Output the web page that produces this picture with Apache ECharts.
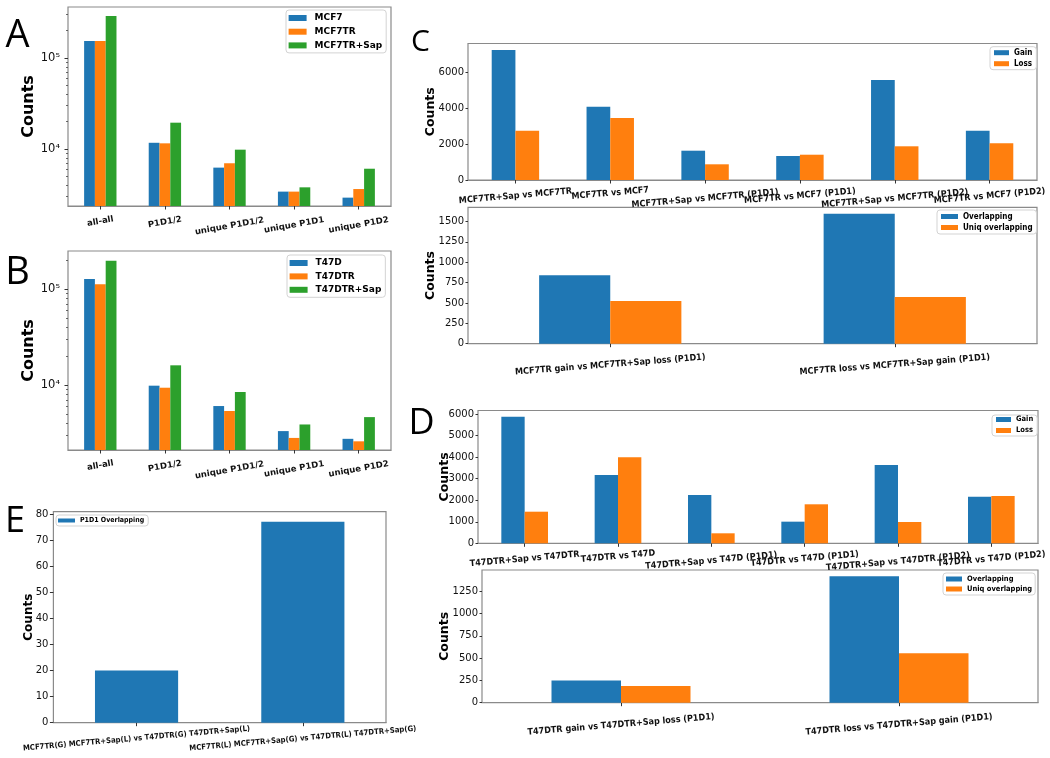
<!DOCTYPE html>
<html><head><meta charset="utf-8">
<script src="https://cdn.jsdelivr.net/npm/echarts@6/dist/echarts.min.js"></script>
<style>html,body{margin:0;padding:0;background:#fff}#c{width:1050px;height:758px}</style>
</head><body><div id="c"></div>
<script>
// ---------------- DATA ----------------
const catsAB = ['all-all', 'P1D1/2', 'unique P1D1/2', 'unique P1D1', 'unique P1D2'];
const mcf7      = [153800, 11700, 6240, 3400, 2920];
const mcf7tr    = [154000, 11540, 6970, 3400, 3630];
const mcf7trSap = [289000, 19460, 9830, 3790, 6070];
const t47d      = [128200, 9840, 6030, 3300, 2740];
const t47dtr    = [112800, 9370, 5350, 2800, 2580];
const t47dtrSap = [199000, 16060, 8450, 3870, 4620];
const logTicks  = [1e4, 1e5];

const catsCtop = ['MCF7TR+Sap vs MCF7TR', 'MCF7TR vs MCF7', 'MCF7TR+Sap vs MCF7TR (P1D1)', 'MCF7TR vs MCF7 (P1D1)', 'MCF7TR+Sap vs MCF7TR (P1D2)', 'MCF7TR vs MCF7 (P1D2)'];
const gainC = [7263, 4095, 1637, 1341, 5587, 2754];
const lossC = [2754, 3464, 877, 1413, 1883, 2050];
const ticksCtop = [0, 2000, 4000, 6000];

const catsCbot = ['MCF7TR gain vs MCF7TR+Sap loss (P1D1)', 'MCF7TR loss vs MCF7TR+Sap gain (P1D1)'];
const overlapC = [841, 1595];
const uniqC    = [525, 574];
const ticksCbot = [0, 250, 500, 750, 1000, 1250, 1500];

const catsDtop = ['T47DTR+Sap vs T47DTR', 'T47DTR vs T47D', 'T47DTR+Sap vs T47D (P1D1)', 'T47DTR vs T47D (P1D1)', 'T47DTR+Sap vs T47DTR (P1D2)', 'T47DTR vs T47D (P1D2)'];
const gainD = [5870, 3170, 2243, 1004, 3635, 2165];
const lossD = [1467, 3990, 464, 1810, 988, 2195];
const ticksDtop = [0, 1000, 2000, 3000, 4000, 5000, 6000];

const catsDbot = ['T47DTR gain vs T47DTR+Sap loss (P1D1)', 'T47DTR loss vs T47DTR+Sap gain (P1D1)'];
const overlapD = [248, 1419];
const uniqD    = [188, 556];
const ticksDbot = [0, 250, 500, 750, 1000, 1250];

const catsE = ['MCF7TR(G) MCF7TR+Sap(L) vs T47DTR(G) T47DTR+Sap(L)', 'MCF7TR(L) MCF7TR+Sap(G) vs T47DTR(L) T47DTR+Sap(G)'];
const overlapE = [20, 77];
const ticksE = [0, 10, 20, 30, 40, 50, 60, 70, 80];

// ---------------- STYLE ----------------
const BLUE = '#1f77b4', ORANGE = '#ff7f0e', GREEN = '#2ca02c';
const FONT = "'DejaVu Sans', sans-serif";
const FONTC = "'DejaVu Sans Condensed', 'DejaVu Sans', sans-serif";
const FRAME = '#8a8a8a';
const INK = '#111';
const TICK = {color: '#333', width: 1};

function catAxis(gi, cats) {
  return {
    type: 'category', gridIndex: gi, data: cats,
    axisLine: {show: true, lineStyle: {color: FRAME, width: 1.2}},
    axisTick: {show: true, alignWithLabel: true, length: 3.5, lineStyle: TICK},
    axisLabel: {show: false, interval: 0},
    splitLine: {show: false}
  };
}

function linAxis(gi, data, ticks, size, margin, nameGap, nameSize, tickLen) {
  return {
    type: 'value', gridIndex: gi, min: 0, max: Math.max(...data) * 1.05, interval: ticks[1] - ticks[0],
    axisLine: {show: false}, splitLine: {show: false},
    axisTick: {show: true, length: tickLen, lineStyle: TICK},
    axisLabel: {showMaxLabel: false, margin: margin, fontSize: size, fontFamily: FONT, color: INK,
      formatter: v => ticks.indexOf(v) >= 0 ? String(v) : ''},
    name: 'Counts', nameLocation: 'middle', nameGap: nameGap, nameRotate: 90, nameMoveOverlap: false,
    nameTextStyle: {fontSize: nameSize, fontWeight: 'bold', fontFamily: FONT, color: '#000'}
  };
}

const SUP = {'0': '⁰', '1': '¹', '2': '²', '3': '³', '4': '⁴', '5': '⁵', '6': '⁶'};
function logAxis(gi, min, max) {
  return {
    type: 'log', logBase: 10, gridIndex: gi, min: min, max: max,
    axisLine: {show: false}, splitLine: {show: false},
    axisTick: {show: true, length: 3.5, lineStyle: TICK},
    axisLabel: {showMinLabel: false, showMaxLabel: false, margin: 8, fontSize: 11.5, fontFamily: FONT, color: INK,
      formatter: v => {
        const hit = logTicks.find(t => Math.abs(t - v) / t < 1e-6);
        return hit ? '10' + SUP[String(Math.round(Math.log10(hit)))] : '';
      }},
    name: 'Counts', nameLocation: 'middle', nameGap: 31, nameRotate: 90, nameMoveOverlap: false,
    nameTextStyle: {fontSize: 16, fontWeight: 'bold', fontFamily: FONT, color: '#000'}
  };
}
function minorAxis(gi, min, max) {
  const vals = [];
  for (let d = 1e3; d <= 1e5; d *= 10) for (let k = 2; k <= 9; k++) { const v = k * d; if (v > min && v < max) vals.push(v); }
  return {
    type: 'log', logBase: 10, gridIndex: gi, min: min, max: max, position: 'left',
    axisLine: {show: false}, splitLine: {show: false}, axisLabel: {show: false},
    axisTick: {show: true, length: 2, customValues: vals, lineStyle: {color: '#444', width: 0.8}}
  };
}

function bars(name, data, ai, color, width) {
  return {type: 'bar', name: name, data: data, xAxisIndex: ai, yAxisIndex: ai, barWidth: width, barGap: '0%',
    itemStyle: {color: color}, clip: true, animation: false, emphasis: {disabled: true}};
}

function legend(names, left, top, size, family, iw, ih, lh, gap, padding, textPad) {
  return {
    show: true, orient: 'vertical', left: left, top: top, data: names, icon: 'rect', selectedMode: false,
    itemWidth: iw, itemHeight: ih, itemGap: gap, padding: padding,
    borderColor: '#d3d3d3', borderWidth: 1, borderRadius: 3, backgroundColor: 'rgba(255,255,255,0.85)',
    textStyle: {fontSize: size, fontWeight: 'bold', fontFamily: family, color: '#000', lineHeight: lh, padding: [0, 0, 0, textPad]}
  };
}

const gridBase = {show: true, borderColor: FRAME, borderWidth: 1.2, backgroundColor: 'transparent', containLabel: false, outerBoundsMode: 'none'};
const grids = [
  {left: 68, top: 7, width: 323, height: 199},           // 0 A
  {left: 68, top: 251, width: 323, height: 199},         // 1 B
  {left: 468, top: 43.5, width: 569, height: 136.5},     // 2 C top
  {left: 468, top: 207.3, width: 569, height: 136.4},    // 3 C bottom
  {left: 478, top: 410.5, width: 560, height: 132.8},    // 4 D top
  {left: 482, top: 570, width: 556, height: 132.7},      // 5 D bottom
  {left: 53.4, top: 511.7, width: 332.6, height: 211}    // 6 E
].map(g => Object.assign({}, gridBase, g));

const A_MIN = 2363, A_MAX = 363500, B_MIN = 2094, B_MAX = 251300;

const xAxes = [catAxis(0, catsAB), catAxis(1, catsAB), catAxis(2, catsCtop), catAxis(3, catsCbot),
               catAxis(4, catsDtop), catAxis(5, catsDbot), catAxis(6, catsE)];
const yAxes = [
  logAxis(0, A_MIN, A_MAX),
  logAxis(1, B_MIN, B_MAX),
  linAxis(2, gainC, ticksCtop, 10, 4, 31, 12.5, 2.5),
  linAxis(3, overlapC, ticksCbot, 10, 4, 31, 12.5, 2.5),
  linAxis(4, gainD, ticksDtop, 10, 4, 27, 12.5, 2.5),
  linAxis(5, overlapD, ticksDbot, 10, 4, 31, 12.5, 2.5),
  linAxis(6, overlapE, ticksE, 10, 5, 19, 12, 3.5),
  minorAxis(0, A_MIN, A_MAX),
  minorAxis(1, B_MIN, B_MAX)
];

const series = [
  bars('MCF7', mcf7, 0, BLUE, '16.7%'),
  bars('MCF7TR', mcf7tr, 0, ORANGE, '16.7%'),
  bars('MCF7TR+Sap', mcf7trSap, 0, GREEN, '16.7%'),
  bars('T47D', t47d, 1, BLUE, '16.7%'),
  bars('T47DTR', t47dtr, 1, ORANGE, '16.7%'),
  bars('T47DTR+Sap', t47dtrSap, 1, GREEN, '16.7%'),
  bars('Gain', gainC, 2, BLUE, '25%'),
  bars('Loss', lossC, 2, ORANGE, '25%'),
  bars('Overlapping', overlapC, 3, BLUE, '25%'),
  bars('Uniq overlapping', uniqC, 3, ORANGE, '25%'),
  bars('Gain', gainD, 4, BLUE, '25%'),
  bars('Loss', lossD, 4, ORANGE, '25%'),
  bars('Overlapping', overlapD, 5, BLUE, '25%'),
  bars('Uniq overlapping', uniqD, 5, ORANGE, '25%'),
  bars('P1D1 Overlapping', overlapE, 6, BLUE, '50%')
];

const legends = [
  legend(['MCF7', 'MCF7TR', 'MCF7TR+Sap'], 286, 10, 9, FONT, 18, 6, 11, 2.7, [2.5, 4, 2, 2.6], 3),
  legend(['T47D', 'T47DTR', 'T47DTR+Sap'], 287, 255, 9, FONT, 18, 6, 11, 2.4, [2.5, 4, 2, 2.6], 3),
  legend(['Gain', 'Loss'], 990, 46.7, 8, FONTC, 15, 5, 9, 2, [1.5, 4, 1.5, 4], 0),
  legend(['Overlapping', 'Uniq overlapping'], 937, 210, 8, FONTC, 17, 5, 9, 2, [2, 4, 2, 4], 0),
  legend(['Gain', 'Loss'], 992, 415, 7.5, FONTC, 15, 5, 9, 2, [0, 4, 1, 4], 0),
  legend(['Overlapping', 'Uniq overlapping'], 943, 573, 7.5, FONTC, 16, 5, 9, 1, [1.5, 3, 1.5, 3], 0),
  legend(['P1D1 Overlapping'], 56, 515, 7, FONTC, 17, 4, 8, 0, [1.5, 4, 1.5, 2], 0)
];

function letter(t, x, y, size) {
  return {type: 'text', x: x, y: y, silent: true,
    style: {text: t, font: size + "px 'Open Sans', 'DejaVu Sans', sans-serif", fill: '#000', align: 'center', verticalAlign: 'middle'}};
}
const letters = [
  letter('A', 17.5, 36, 38),
  letter('B', 17.5, 273.5, 38),
  letter('E', 15, 521.5, 36),
  letter('C', 420.5, 42.5, 30),
  letter('D', 421.5, 423.3, 36)
];

const chart = echarts.init(document.getElementById('c'), null, {renderer: 'canvas', width: 1050, height: 758});
chart.setOption({
  animation: false,
  backgroundColor: '#fff',
  grid: grids,
  xAxis: xAxes,
  yAxis: yAxes,
  legend: legends,
  series: series,
  graphic: letters
});

// Tilted category labels (matplotlib-style: centred under the tick, rotated box hanging below axis)
const labelSpecs = [
  {gi: 0, cats: catsAB,   yBase: A_MIN, size: 8.5, family: FONT,  angle: 10,  base: 12.5, k: 0.11},
  {gi: 1, cats: catsAB,   yBase: B_MIN, size: 8.5, family: FONT,  angle: 10,  base: 12.5, k: 0.11},
  {gi: 2, cats: catsCtop, yBase: 0,     size: 9,   family: FONTC, angle: 5,   base: 7.5,  k: 0.075},
  {gi: 3, cats: catsCbot, yBase: 0,     size: 9,   family: FONTC, angle: 4.5, base: 10.5, k: 0.055},
  {gi: 4, cats: catsDtop, yBase: 0,     size: 9,   family: FONTC, angle: 5,   base: 7.5,  k: 0.075},
  {gi: 5, cats: catsDbot, yBase: 0,     size: 9,   family: FONTC, angle: 4.8, base: 11,   k: 0.058},
  {gi: 6, cats: catsE,    yBase: 0,     size: 7.7, family: FONTC, angle: 5,   base: 4.5,  k: 0.05}
];
const ctx = document.createElement('canvas').getContext('2d');
const labelEls = [];
labelSpecs.forEach(s => {
  const font = 'bold ' + s.size + 'px ' + s.family;
  ctx.font = font;
  s.cats.forEach(c => {
    const p = chart.convertToPixel({gridIndex: s.gi}, [c, s.yBase]);
    const w = ctx.measureText(c).width;
    labelEls.push({type: 'text', x: p[0], y: p[1] + s.base + s.k * w, rotation: s.angle * Math.PI / 180, silent: true,
      style: {text: c, font: font, fill: INK, align: 'center', verticalAlign: 'middle'}});
  });
});
chart.setOption({graphic: letters.concat(labelEls)});
</script></body></html>
